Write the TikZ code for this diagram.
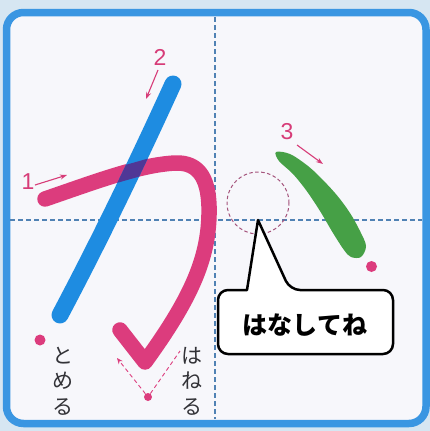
\documentclass[tikz,border=0pt]{standalone}
\usepackage{fontspec}
\setmainfont{Liberation Sans}
\newfontfamily\jp{Noto Sans CJK JP}
\usetikzlibrary{arrows.meta}
\definecolor{bgout}{RGB}{214,230,242}
\definecolor{paper}{RGB}{247,247,251}
\definecolor{framec}{RGB}{58,150,226}
\definecolor{guide}{RGB}{80,130,180}
\definecolor{pinkc}{RGB}{220,60,125}
\definecolor{bluec}{RGB}{30,140,225}
\definecolor{greenc}{RGB}{70,160,70}
\definecolor{overlapc}{RGB}{80,55,150}
\definecolor{circc}{RGB}{165,85,125}
\definecolor{labelc}{RGB}{215,60,120}
\definecolor{textc}{RGB}{50,50,55}
\tikzset{
 guideline/.style={guide, line width=1.1pt, dash pattern=on 5pt off 3pt},
 strokepink/.style={pinkc, line width=15.5pt, line cap=round, line join=round},
 strokeblue/.style={bluec, line width=17pt, line cap=round},
 orderarrow/.style={labelc, line width=1.1pt, -{Stealth[length=7pt,width=5pt]}},
 numlabel/.style={labelc, font=\fontsize{23}{23}\selectfont, inner sep=0pt},
 enddot/.style={circle, fill=pinkc, inner sep=0pt, minimum size=#1},
 vlabel/.style={textc, align=center, inner sep=0pt, font=\jp\fontsize{21}{25.5}\selectfont},
 hanedash/.style={pinkc, line width=0.9pt, dash pattern=on 4pt off 3pt},
 bubble/.style={draw=black, fill=white, line width=2.5pt, line join=round},
 gapcircle/.style={circle, draw=circc, line width=1pt, dash pattern=on 3.5pt off 2.5pt, minimum size=62pt, inner sep=0pt},
}
\begin{document}
\begin{tikzpicture}[x=1pt,y=-1pt]
\fill[bgout] (0,0) rectangle (430,431);
\useasboundingbox (0,0) rectangle (430,431);
\draw[framec, fill=paper, line width=7.5pt, rounded corners=17pt] (6.5,12.5) rectangle (426,423.5);
% guides
\coordinate (vt) at (215,17); \coordinate (vb) at (215,419);
\coordinate (hl) at (10,220); \coordinate (hr) at (422,220);
\draw[guideline] (vt) -- (vb);
\draw[guideline] (hl) -- (hr);
% stroke 1
\draw[strokepink] (45,199) .. controls (100,180) and (140,165) .. (175,163) .. controls (200,162) and (210,180) .. (209,215) .. controls (208,260) and (190,300) .. (145,362) -- (120,330);
% stroke 2
\draw[strokeblue] (173,84) .. controls (142,152) and (104,232) .. (60,315);
\begin{scope}
\clip (88,175.6) -- (154.2,156.8) -- (158.2,171.2) -- (92,190) -- cycle;
\draw[strokeblue, overlapc] (173,84) .. controls (142,152) and (104,232) .. (60,315);
\end{scope}
% stroke 3
\fill[greenc] plot[smooth cycle, tension=0.55] coordinates {(276,152) (290,154) (306.7,165) (320,177) (336.7,195) (350,213) (360,231) (366,246) (361,257) (351,257) (344,250) (333,233) (320,211) (306.7,191) (293,174) (279,161)};
% dots
\node[enddot=11pt] (dot1) at (40,340) {};
\node[enddot=11pt] (dot3) at (371.5,266.5) {};
\node[enddot=8pt] (dothane) at (148,397) {};
% hane
\coordinate (haneL) at (117,358); \coordinate (haneR) at (180,351);
\draw[hanedash, -{Stealth[length=6pt,width=5pt]}] (dothane) -- (haneL);
\draw[hanedash] (dothane) -- (haneR);
% gap circle
\node[gapcircle] (gap) at (258,203) {};
% bubble
\draw[bubble] (290,290) -- (258,220) -- (247,290) [rounded corners=10pt] -- (218,290) -- (218,354) -- (393,354) -- (393,290) -- cycle;
\node[font=\jp\bfseries\fontsize{25}{25}\selectfont, inner sep=0pt] (msg) at (305,325) {はなしてね};
% numbers and arrows
\node[numlabel] (n1) at (28,182) {1};
\node[numlabel] (n2) at (160,57) {2};
\node[numlabel] (n3) at (287,132) {3};
\coordinate (a1s) at (35,185); \coordinate (a1e) at (67,175);
\coordinate (a2s) at (158,70); \coordinate (a2e) at (146,99);
\coordinate (a3s) at (297,145); \coordinate (a3e) at (323,164);
\draw[orderarrow] (a1s) -- (a1e);
\draw[orderarrow] (a2s) -- (a2e);
\draw[orderarrow] (a3s) -- (a3e);
% vertical labels
\node[vlabel] (tomeru) at (63,381) {と\\め\\る};
\node[vlabel] (haneru) at (192,381) {は\\ね\\る};
\end{tikzpicture}
\end{document}
